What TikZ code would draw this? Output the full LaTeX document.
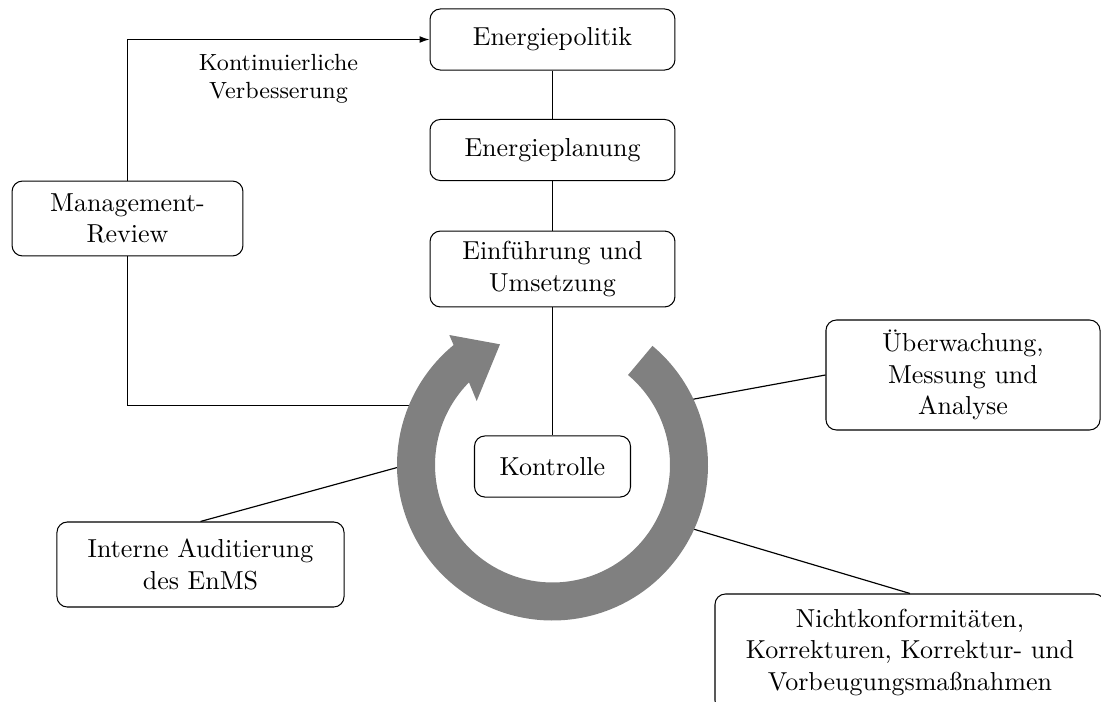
\documentclass[tikz,border=0pt]{standalone}
\usepackage{fontspec}
\usetikzlibrary{arrows.meta}
\begin{document}
\begin{tikzpicture}[x=0.384615pt, y=-0.384615pt,
  box/.style={draw, rounded corners=4pt, align=center, inner sep=0pt},
  conn/.style={draw, line width=0.45pt},
  ringfill/.style={fill=black!50}]
\path[use as bounding box] (0,0) rectangle (1101,702);
\clip (0,0) rectangle (1101,702);
% boxes
\node[box, text width=94.2pt, minimum height=23.5pt] (pol) at (552.5,39.5) {Energiepolitik};
\node[box, text width=94.2pt, minimum height=23.5pt] (plan) at (552.5,150) {Energieplanung};
\node[box, text width=94.2pt, minimum height=29.2pt] (ein) at (552.5,269) {Einführung und\\Umsetzung};
\node[box, text width=60pt, minimum height=23.5pt] (kon) at (552.5,466.5) {Kontrolle};
\node[box, text width=88.8pt, minimum height=28.8pt] (man) at (127.5,218.5) {Management-\\Review};
\node[box, text width=110.4pt, minimum height=32.7pt] (int) at (200.5,564.5) {Interne Auditierung\\des EnMS};
\node[box, text width=105.4pt, minimum height=42.3pt] (ueb) at (963,375) {Überwachung,\\Messung und\\Analyse};
\node[box, text width=150pt, minimum height=45pt] (nic) at (910,652.5) {Nichtkonformitäten,\\Korrekturen, Korrektur- und\\Vorbeugungsmaßnahmen};
% ring anchor coordinates
\begin{scope}[shift={(552.5,465)}, yscale=-1]
  \coordinate (rman) at (156.5:150);
  \coordinate (rint) at (180.4:150);
  \coordinate (rueb) at (25.6:150);
  \coordinate (rnic) at (-24.7:150);
\end{scope}
% connectors
\draw[conn] (pol) -- (plan);
\draw[conn] (plan) -- (ein);
\draw[conn] (ein) -- (kon);
\draw[conn, -{Latex[length=3.8pt,width=2.6pt]}] (man.north) |- node[pos=0.75, below=2pt, font=\small, align=center] (lbl) {Kontinuierliche\\Verbesserung} (pol.west);
\draw[conn] (man.south) |- (rman);
\draw[conn] (int.north) -- (rint);
\draw[conn] (ueb.west) -- (rueb);
\draw[conn] (nic.north) -- (rnic);
% circular arrow
\begin{scope}[shift={(552.5,465)}, yscale=-1]
  \fill[ringfill] (50:155.5) arc[start angle=50, end angle=-230.5, radius=155.5]
    -- (-103.2,130) -- (-52.5,120.7) -- (-75.8,64)
    -- (-224.7:117.5) arc[start angle=-224.7, end angle=50, radius=117.5] -- cycle;
\end{scope}
\end{tikzpicture}
\end{document}
